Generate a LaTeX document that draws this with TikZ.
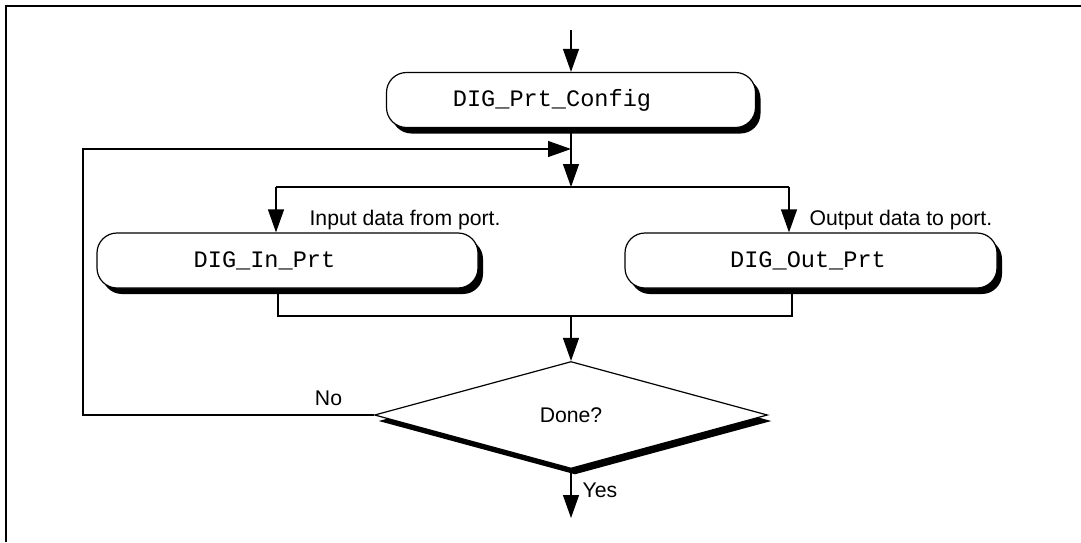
\documentclass[tikz,border=0pt]{standalone}
\usepackage{fontspec}
\setmainfont{Liberation Sans}
\setmonofont{Liberation Mono}
\usetikzlibrary{calc,positioning,shapes.geometric,shadows,arrows.meta}

\begin{document}
\begin{tikzpicture}[x=0.5pt, y=-0.5pt, line width=0.6pt]
\tikzstyle{every node}=[font=\fontsize{10.6}{12}\selectfont]
\tikzstyle{box}=[draw, fill=white, rounded corners=10pt, minimum height=27.5pt,
                 inner sep=0pt, font=\fontsize{11.8}{14}\selectfont\ttfamily,
                 drop shadow={shadow xshift=2.5pt, shadow yshift=-3pt, fill=black, opacity=1}]
\tikzstyle{test}=[draw, fill=white, diamond, minimum width=196.5pt, minimum height=53.5pt,
                  inner sep=0pt,
                  drop shadow={shadow xshift=2pt, shadow yshift=-3pt, fill=black, opacity=1}]
\tikzstyle{note}=[inner sep=0pt]
\tikzstyle{arr}=[-{Triangle[length=11.5pt, width=8pt]}]
\useasboundingbox (0,0) rectangle (1081,542);
\draw[line width=1.1pt] (6,542) -- (6,6) -- (1081,6);
\node[box, minimum width=184.5pt] (cfg) at (571,100) {DIG\_Prt\_Config\hspace*{19pt}};
\node[box, minimum width=190.5pt] (inp) at (287.5,260.5) {DIG\_In\_Prt\hspace*{23pt}};
\node[box, minimum width=186pt] (outp) at (811,260.5) {DIG\_Out\_Prt\hspace*{3pt}};
\node[test] (done) at (571,415) {Done?};
\coordinate (top) at (571,30);
\coordinate (join) at (571,149);
\coordinate (split) at (571,187);
\coordinate (splitL) at (276,187);
\coordinate (splitR) at (789,187);
\coordinate (mergeL) at (278,316);
\coordinate (mergeR) at (792,316);
\coordinate (merge) at (571,316);
\coordinate (back) at (83,415);
\coordinate (exit) at (571,518);
\draw[arr] (top) -- (cfg);
\draw (cfg) -- (join);
\draw[arr] (join) -- (split);
\draw[arr] (done.west) -- (back) |- (join);
\draw (splitL) -- (splitR);
\draw[arr] (splitL) -- (splitL |- inp.north);
\draw[arr] (splitR) -- (splitR |- outp.north);
\draw (mergeL |- inp.south) -- (mergeL) -- (mergeR) -- (mergeR |- outp.south);
\draw[arr] (merge) -- (done);
\draw[arr] (done) -- (exit);
\node[note, anchor=base west] (inlbl) at (309,225) {Input data from port.};
\node[note, anchor=base west] (outlbl) at (809,225) {Output data to port.};
\node[note] (no) at (328.5,398) {No};
\node[note, anchor=west] (yes) at (582,490) {Yes};
\end{tikzpicture}
\end{document}
